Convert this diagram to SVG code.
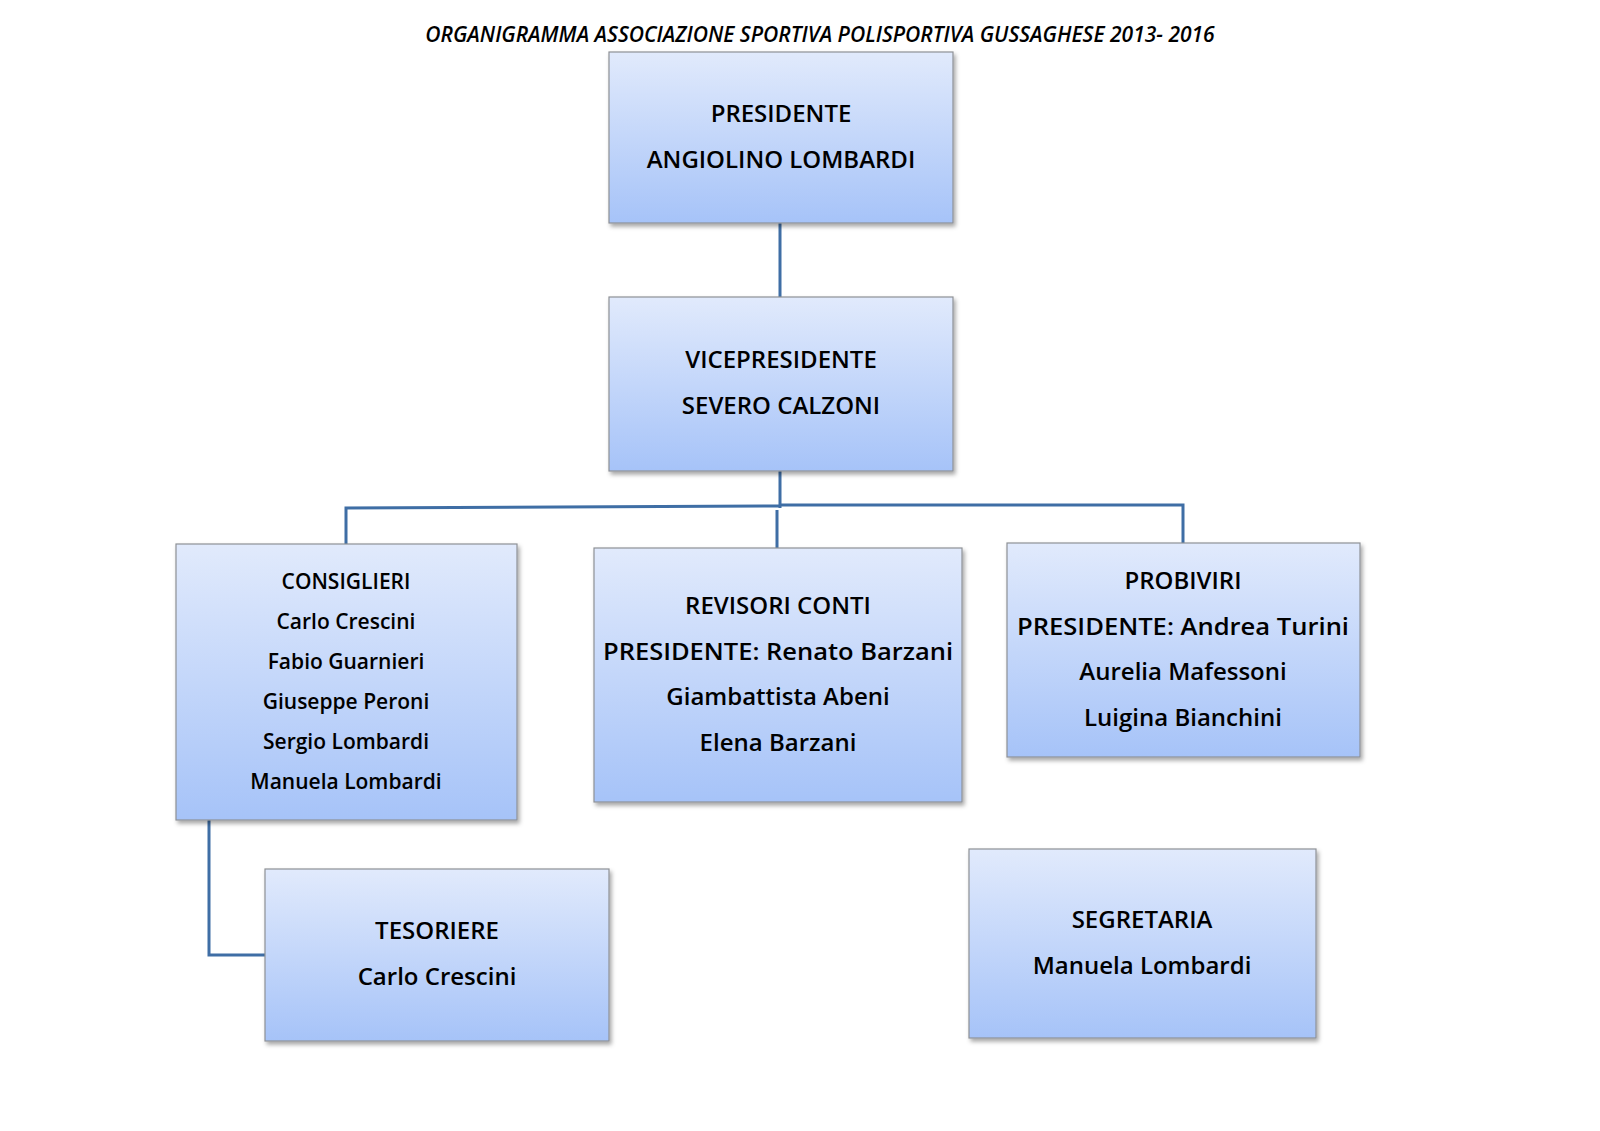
<svg xmlns="http://www.w3.org/2000/svg" width="1600" height="1131" viewBox="0 0 1600 1131">
<defs>
<linearGradient id="g" x1="0" y1="0" x2="0" y2="1"><stop offset="0" stop-color="#e1eafc"/><stop offset="1" stop-color="#a6c3f8"/></linearGradient>
<filter id="sh" x="-5%" y="-5%" width="115%" height="115%"><feDropShadow dx="2" dy="3" stdDeviation="2" flood-color="#000" flood-opacity="0.35"/></filter>
</defs>
<style>
.b{fill:url(#g);stroke:#8e9196;stroke-width:1.2;filter:url(#sh)}
text{font-family:"Open Sans","Noto Sans",sans-serif;font-weight:600;fill:#000;text-anchor:middle}
.l{font-size:24px}.s{font-size:21px}
.c{stroke:#3f6ea5;stroke-width:3;fill:none}
</style>
<rect width="1600" height="1131" fill="#fff"/>
<text x="820" y="42" font-size="21" font-style="italic" font-weight="700">ORGANIGRAMMA ASSOCIAZIONE SPORTIVA POLISPORTIVA GUSSAGHESE 2013- 2016</text>
<g id="connectors">
<path class="c" d="M780 223V297M780 471V508M346 544V508L780 506M780 505H1183V543M777 510V548M209 820V955H265"/>
</g>
<g id="presidente"><rect class="b" x="609" y="52" width="344" height="171"/>
<text class="l" x="781" y="122">PRESIDENTE</text><text class="l" x="781" y="168">ANGIOLINO LOMBARDI</text></g>
<g id="vicepresidente"><rect class="b" x="609" y="297" width="344" height="174"/>
<text class="l" x="781" y="368">VICEPRESIDENTE</text><text class="l" x="781" y="414">SEVERO CALZONI</text></g>
<g id="consiglieri"><rect class="b" x="176" y="544" width="341" height="276"/>
<text class="s" x="346" y="589">CONSIGLIERI</text><text class="s" x="346" y="629">Carlo Crescini</text><text class="s" x="346" y="669">Fabio Guarnieri</text><text class="s" x="346" y="709">Giuseppe Peroni</text><text class="s" x="346" y="749">Sergio Lombardi</text><text class="s" x="346" y="789">Manuela Lombardi</text></g>
<g id="revisori"><rect class="b" x="594" y="548" width="368" height="254"/>
<text class="l" x="778" y="614">REVISORI CONTI</text><text class="l" x="778" y="660" textLength="350" lengthAdjust="spacingAndGlyphs">PRESIDENTE: Renato Barzani</text><text class="l" x="778" y="705">Giambattista Abeni</text><text class="l" x="778" y="751">Elena Barzani</text></g>
<g id="probiviri"><rect class="b" x="1007" y="543" width="353" height="214"/>
<text class="l" x="1183" y="589">PROBIVIRI</text><text class="l" x="1183" y="635" textLength="332" lengthAdjust="spacingAndGlyphs">PRESIDENTE: Andrea Turini</text><text class="l" x="1183" y="680">Aurelia Mafessoni</text><text class="l" x="1183" y="726">Luigina Bianchini</text></g>
<g id="tesoriere"><rect class="b" x="265" y="869" width="344" height="172"/>
<text class="l" x="437" y="939">TESORIERE</text><text class="l" x="437" y="985">Carlo Crescini</text></g>
<g id="segretaria"><rect class="b" x="969" y="849" width="347" height="189"/>
<text class="l" x="1142" y="928">SEGRETARIA</text><text class="l" x="1142" y="974">Manuela Lombardi</text></g>
</svg>
